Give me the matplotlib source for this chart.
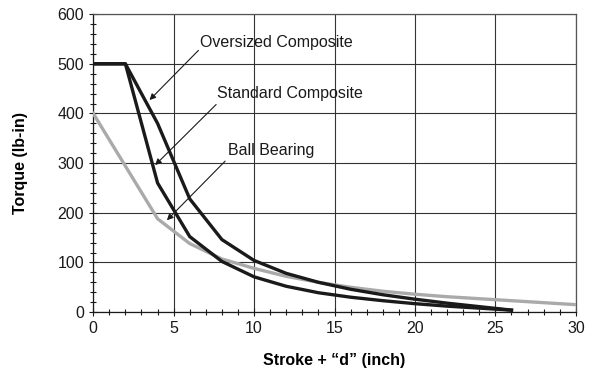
import matplotlib
matplotlib.use('Agg')
import matplotlib.pyplot as plt
from matplotlib.ticker import MultipleLocator

plt.rc('font', family='Liberation Sans')

# data
x_comp = [0, 2, 4, 6, 8, 10, 12, 14, 16, 18, 20, 22, 24, 26]
oversized = [500, 500, 380, 228, 146, 104, 78, 60, 46, 35, 26, 18, 11, 4]
standard = [500, 500, 260, 152, 102, 71, 52, 39, 30, 23, 17, 12, 8, 4]
x_ball = [0, 4, 6, 8, 10, 12, 14, 16, 18, 20, 22, 24, 26, 28, 30]
ball = [400, 188, 138, 107, 88, 72, 60, 50, 42, 36, 31, 27, 23, 19, 15]

labels = ['Oversized Composite', 'Standard Composite', 'Ball Bearing']
arrow_tips = [(3.5, 427), (3.85, 296), (4.58, 185)]
arrow_tails = [(6.54, 527), (7.64, 418), (8.2, 304)]
text_pos = [(6.65, 543), (7.7, 441), (8.39, 326)]

fig = plt.figure(figsize=(5.9, 3.72), dpi=100)
ax = fig.add_axes([0.158, 0.161, 0.818, 0.801])

ax.plot(x_ball, ball, color='#aaaaaa', lw=2.4, zorder=3)
ax.plot(x_comp, standard, color='#1a1a1a', lw=2.4, zorder=4)
ax.plot(x_comp, oversized, color='#1a1a1a', lw=2.4, zorder=4)

for lab, tip, tail, tp in zip(labels, arrow_tips, arrow_tails, text_pos):
    ax.text(tp[0], tp[1], lab, fontsize=11.5, ha='left', va='center',
            color='#1a1a1a', zorder=5)
    ax.annotate('', xy=tip, xytext=tail,
                arrowprops=dict(arrowstyle='-|>', color='#1a1a1a', lw=0.8,
                                mutation_scale=9, shrinkA=0, shrinkB=0),
                zorder=5)

ax.set_xlim(0, 30)
ax.set_ylim(0, 600)
ax.xaxis.set_major_locator(MultipleLocator(5))
ax.xaxis.set_minor_locator(MultipleLocator(1))
ax.yaxis.set_major_locator(MultipleLocator(100))
ax.yaxis.set_minor_locator(MultipleLocator(20))
ax.tick_params(which='both', direction='inout', labelsize=11.5, colors='#1a1a1a')
ax.tick_params(which='major', length=6, width=0.8)
ax.tick_params(which='minor', length=4, width=0.8)
ax.grid(True, which='major', color='#333333', lw=0.8, zorder=1)
for s in ax.spines.values():
    s.set_color('#555555')
    s.set_linewidth(0.9)
ax.spines['left'].set_color('#1a1a1a')
ax.spines['bottom'].set_color('#1a1a1a')

ax.set_xlabel('Stroke + \u201cd\u201d (inch)', fontsize=11.5, fontweight='bold', labelpad=12)
ax.set_ylabel('Torque (lb-in)', fontsize=11.5, fontweight='bold', labelpad=21)

fig.savefig('out.png', dpi=100)
